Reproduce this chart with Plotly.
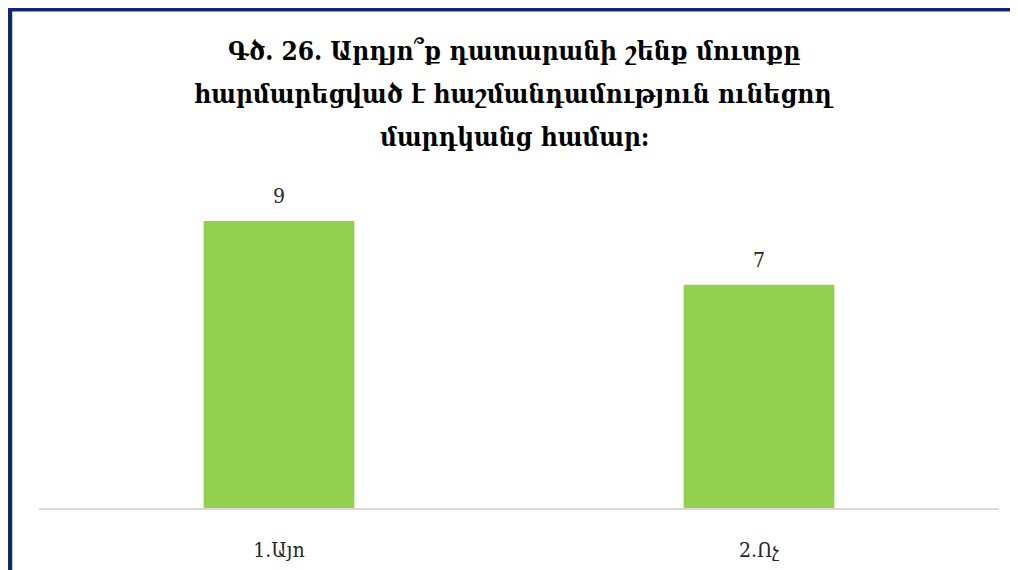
import plotly.graph_objects as go

# Chart data
categories = ["1.Այո", "2.Ոչ"]
counts = [9, 7]
title_lines = [
    "Գծ. 26. Արդյո՞ք դատարանի շենք մուտքը",
    "հարմարեցված է հաշմանդամություն ունեցող",
    "մարդկանց համար:",
]

WIDTH, HEIGHT = 1018, 570
# the page body adds an 8px offset, so screen positions are shifted back
OFFSET = 8
MARGIN = dict(l=39 - OFFSET, r=19 + OFFSET, t=189 - OFFSET, b=62 + OFFSET)
BAR_GREEN = "#92D050"
NAVY = "#10296A"
SERIF = "DejaVu Serif Condensed, DejaVu Serif, serif"

plot_w = WIDTH - MARGIN["l"] - MARGIN["r"]
plot_h = HEIGHT - MARGIN["t"] - MARGIN["b"]


def px_to_paper_x(px):
    """Screen x pixel to paper coordinate."""
    return (px - OFFSET - MARGIN["l"]) / plot_w


def px_to_paper_y(py):
    """Screen y pixel to paper coordinate."""
    return (HEIGHT - MARGIN["b"] - (py - OFFSET)) / plot_h


fig = go.Figure(
    go.Bar(
        x=categories,
        y=counts,
        marker=dict(color=BAR_GREEN, line=dict(width=0)),
        hoverinfo="x+y",
    )
)

# Value labels above the bars
for cat, val in zip(categories, counts):
    fig.add_annotation(x=cat, y=val, text=str(val), showarrow=False,
                       yanchor="bottom", yshift=11,
                       font=dict(family=SERIF, size=21, color="#262626"))

# Title, one line per annotation so the spacing matches
for i, line in enumerate(title_lines):
    fig.add_annotation(x=px_to_paper_x(514), y=px_to_paper_y(51 + i * 43),
                       xref="paper", yref="paper", text="<b>%s</b>" % line,
                       showarrow=False, xanchor="center", yanchor="middle",
                       font=dict(family=SERIF, size=26, color="#000000"))

# Navy frame on the left and top
fig.add_shape(type="line", xref="paper", yref="paper",
              x0=px_to_paper_x(10), x1=px_to_paper_x(10),
              y0=px_to_paper_y(8), y1=px_to_paper_y(HEIGHT + 20),
              line=dict(color=NAVY, width=4.5))
fig.add_shape(type="line", xref="paper", yref="paper",
              x0=px_to_paper_x(8), x1=px_to_paper_x(WIDTH + 20),
              y0=px_to_paper_y(9.5), y1=px_to_paper_y(9.5),
              line=dict(color=NAVY, width=4))

fig.update_layout(
    width=WIDTH,
    height=HEIGHT,
    margin=MARGIN,
    paper_bgcolor="white",
    plot_bgcolor="white",
    bargap=0.686,
    showlegend=False,
    xaxis=dict(
        showline=True,
        linecolor="#D9D9D9",
        linewidth=1.5,
        showgrid=False,
        ticks="",
        ticklabelstandoff=22,
        tickfont=dict(family=SERIF, size=21, color="#262626"),
        fixedrange=True,
    ),
    yaxis=dict(
        range=[0, 10],
        visible=False,
        showgrid=False,
        zeroline=False,
        fixedrange=True,
    ),
)

fig.write_html("out.html")
